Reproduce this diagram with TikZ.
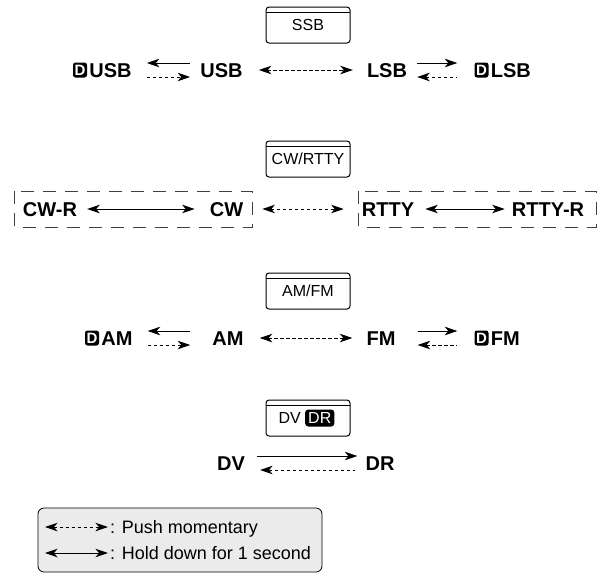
\documentclass[tikz,border=0pt]{standalone}
\usepackage{fontspec}
\setmainfont{Liberation Sans}
\usetikzlibrary{calc,positioning,arrows.meta}

\begin{document}
\begin{tikzpicture}[
  x=1pt, y=1pt,
  >={Stealth[length=12.5pt,width=8.5pt,inset=3.5pt]},
  modekey/.style={
    draw, rounded corners=3pt, line width=1pt,
    minimum width=84pt, minimum height=36pt, inner sep=0pt,
    font=\fontsize{16}{18}\selectfont,
    path picture={\draw[line width=0.5pt] ([yshift=-5.5pt]path picture bounding box.north west) -- ([yshift=-5.5pt]path picture bounding box.north east);},
  },
  mode/.style={inner sep=0pt, text height=14.3pt, text depth=0pt, font=\fontsize{20}{22}\selectfont\bfseries},
  dicon/.style={fill=black, text=white, rounded corners=2.5pt, inner sep=0pt,
    minimum width=14pt, minimum height=15pt, font=\fontsize{15}{16}\selectfont\bfseries},
  dricon/.style={fill=black, text=white, rounded corners=3pt, inner xsep=3pt, inner ysep=0pt,
    minimum height=17pt, font=\fontsize{16}{18}\selectfont},
  hold/.style={line width=1pt},
  push/.style={line width=1pt, dash pattern=on 3.5pt off 2.5pt},
  dashbox/.style={draw=black!75, line width=0.9pt, dash pattern=on 13pt off 9pt},
  legendbox/.style={draw, fill=black!8, rounded corners=6pt, line width=0.8pt},
  note/.style={inner sep=0pt, text height=12.9pt, text depth=0pt, font=\fontsize{18}{20}\selectfont},
]
\useasboundingbox (0,0) rectangle (607,-574);

% SSB
\node[modekey] (kssb) at (308,-25) {SSB};
\node[dicon] (d1) at (80,-70) {D};
\node[mode, right=2pt of d1] (dusb) {USB};
\node[mode] (usb) at (221.5,-70) {USB};
\node[mode] (lsb) at (387,-70) {LSB};
\node[dicon] (d2) at (481.5,-70) {D};
\node[mode, right=2pt of d2] (dlsb) {LSB};

\draw[hold,<-] ([xshift=15pt,yshift=7pt]dusb.east) -- ([xshift=-10pt,yshift=7pt]usb.west);
\draw[push,->] ([xshift=15pt,yshift=-7pt]dusb.east) -- ([xshift=-10pt,yshift=-7pt]usb.west);
\draw[push,<->] ([xshift=16pt]usb.east) -- ([xshift=-14pt]lsb.west);
\draw[hold,->] ([xshift=10pt,yshift=7pt]lsb.east) -- ([xshift=-17pt,yshift=7pt]d2.west);
\draw[push,<-] ([xshift=10pt,yshift=-7pt]lsb.east) -- ([xshift=-17pt,yshift=-7pt]d2.west);

% CW/RTTY
\node[modekey] (kcw) at (308,-159) {CW/RTTY};
\node[mode] (cwr) at (50,-209) {CW-R};
\node[mode] (cw) at (226.5,-209) {CW};
\node[mode] (rtty) at (388,-209) {RTTY};
\node[mode] (rttyr) at (548,-209) {RTTY-R};

\draw[dashbox] ($(cwr.west)+(-8,18)$) rectangle ($(cw.east)+(9,-18)$);
\draw[dashbox] ($(rtty.west)+(-3,18)$) rectangle ($(rttyr.east)+(12,-18)$);

\draw[hold,<->] ([xshift=10pt]cwr.east) -- ([xshift=-15pt]cw.west);
\draw[push,<->] ([xshift=19pt]cw.east) -- ([xshift=-18pt]rtty.west);
\draw[hold,<->] ([xshift=11pt]rtty.east) -- ([xshift=-7pt]rttyr.west);

% AM/FM
\node[modekey] (kam) at (308,-291) {AM/FM};
\node[dicon] (d3) at (92,-338) {D};
\node[mode, right=2pt of d3] (dam) {AM};
\node[mode] (am) at (228,-338) {AM};
\node[mode] (fm) at (381,-338) {FM};
\node[dicon] (d4) at (481.5,-338) {D};
\node[mode, right=2pt of d4] (dfm) {FM};

\draw[hold,<-] ([xshift=15pt,yshift=7pt]dam.east) -- ([xshift=-22pt,yshift=7pt]am.west);
\draw[push,->] ([xshift=15pt,yshift=-7pt]dam.east) -- ([xshift=-22pt,yshift=-7pt]am.west);
\draw[push,<->] ([xshift=16pt]am.east) -- ([xshift=-14pt]fm.west);
\draw[hold,->] ([xshift=22pt,yshift=7pt]fm.east) -- ([xshift=-17pt,yshift=7pt]d4.west);
\draw[push,<-] ([xshift=22pt,yshift=-7pt]fm.east) -- ([xshift=-17pt,yshift=-7pt]d4.west);

% DV
\node[modekey] (kdv) at (308,-418) {};
\node[anchor=east, inner sep=0pt, font=\fontsize{16}{18}\selectfont] (kdvt) at (301,-418) {DV};
\node[dricon, right=4pt of kdvt] (kdr) {DR};
\node[mode] (dv) at (231,-463) {DV};
\node[mode] (dr) at (380,-463) {DR};

\draw[hold,->] ([xshift=12pt,yshift=7pt]dv.east) -- ([xshift=-8pt,yshift=7pt]dr.west);
\draw[push,<-] ([xshift=15pt,yshift=-7pt]dv.east) -- ([xshift=-10pt,yshift=-7pt]dr.west);

% legend
\draw[legendbox] (38,-508) rectangle (322,-572);
\coordinate (lp) at (45,-527);
\node[note, anchor=west] (lpush) at (110,-527) {: Push momentary};
\draw[push,<->] (lp) -- ([xshift=-2pt]lpush.west);
\coordinate (lh) at (45,-553);
\node[note, anchor=west] (lhold) at (110,-553) {: Hold down for 1 second};
\draw[hold,<->] (lh) -- ([xshift=-2pt]lhold.west);

\end{tikzpicture}
\end{document}
